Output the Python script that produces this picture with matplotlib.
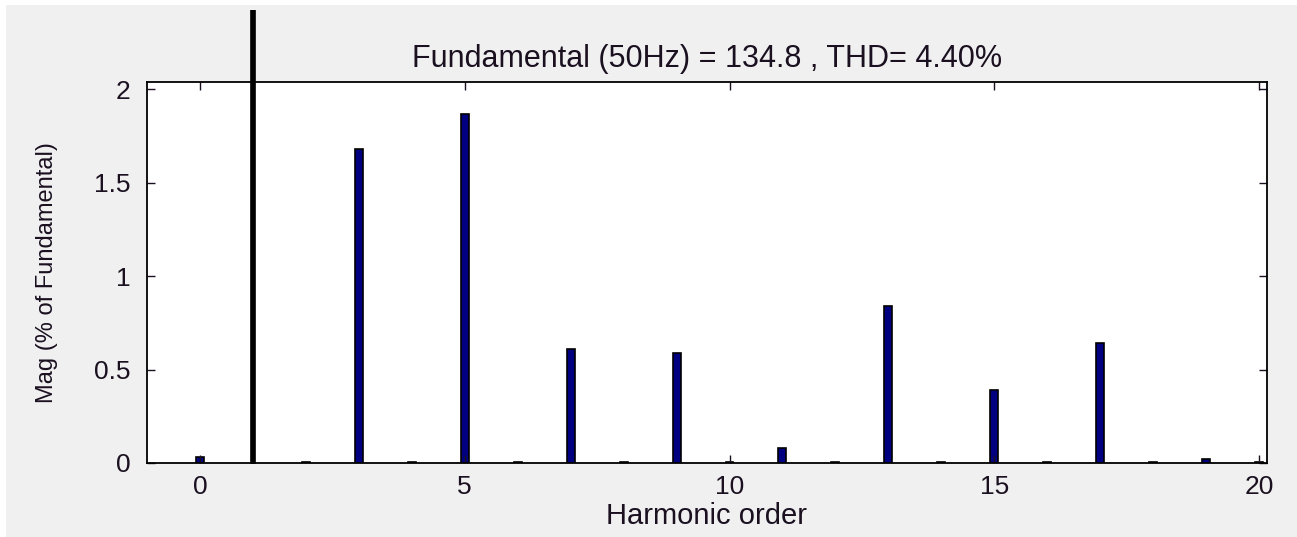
import matplotlib.pyplot as plt
import matplotlib.patches as mpatches

plt.rcParams['font.family'] = ['Liberation Sans', 'DejaVu Sans']

harmonics = [0, 1, 2, 3, 4, 5, 6, 7, 8, 9, 10, 11, 12, 13, 14, 15, 16, 17, 18, 19, 20]
mag_pct = [0.03, 100, 0.005, 1.68, 0.005, 1.87, 0.005, 0.61, 0.005, 0.59, 0.005,
           0.08, 0.005, 0.84, 0.005, 0.39, 0.005, 0.64, 0.005, 0.02, 0.005]
xticks = [0, 5, 10, 15, 20]
yticks = [0, 0.5, 1, 1.5, 2]
ytick_labels = ['0', '0.5', '1', '1.5', '2']
title = 'Fundamental (50Hz) = 134.8 , THD= 4.40%'

fig = plt.figure(figsize=(12.97, 5.37), dpi=100, facecolor='white')
# grey window background with a thin white margin at top/left
fig.patches.append(mpatches.Rectangle((6 / 1297, 0), 1, (537 - 5) / 537,
                                      transform=fig.transFigure, facecolor='#f0f0f0',
                                      edgecolor='none', zorder=-10))
ax = fig.add_axes([147 / 1297, (537 - 463) / 537, 1120 / 1297, 381 / 537])
ax.set_facecolor('white')

bars = ax.bar(harmonics, mag_pct, width=0.15, color='#000080', edgecolor='black', linewidth=1.2)
# fundamental bar runs off the top of the axes, like MATLAB with clipping off
clip = mpatches.Rectangle((0, 0), 1, (537 - 10) / 537, transform=fig.transFigure)
bars[1].set_clip_path(clip)
bars[1].set_facecolor('black')
bars[1].set_width(0.09)
bars[1].set_x(1 - 0.045)

ax.set_xlim(-1, 20.15)
ax.set_ylim(0, 2.04)
ax.set_xticks(xticks)
ax.set_xticklabels([str(t) for t in xticks])
ax.set_yticks(yticks)
ax.set_yticklabels(ytick_labels)
ax.tick_params(direction='in', top=True, right=True, length=6, width=1,
               labelsize=19, pad=12, colors='#1a1020')
ax.tick_params(axis='x', pad=9)
for s in ax.spines.values():
    s.set_linewidth(1.3)
    s.set_color('black')

ax.set_title(title, fontsize=22, pad=11, color='#1a1020')
ax.set_xlabel('Harmonic order', fontsize=21, labelpad=2, color='#1a1020')
ax.set_ylabel('Mag (% of Fundamental)', fontsize=17, labelpad=26, color='#1a1020')

fig.savefig('out.png', dpi=100, facecolor=fig.get_facecolor())
